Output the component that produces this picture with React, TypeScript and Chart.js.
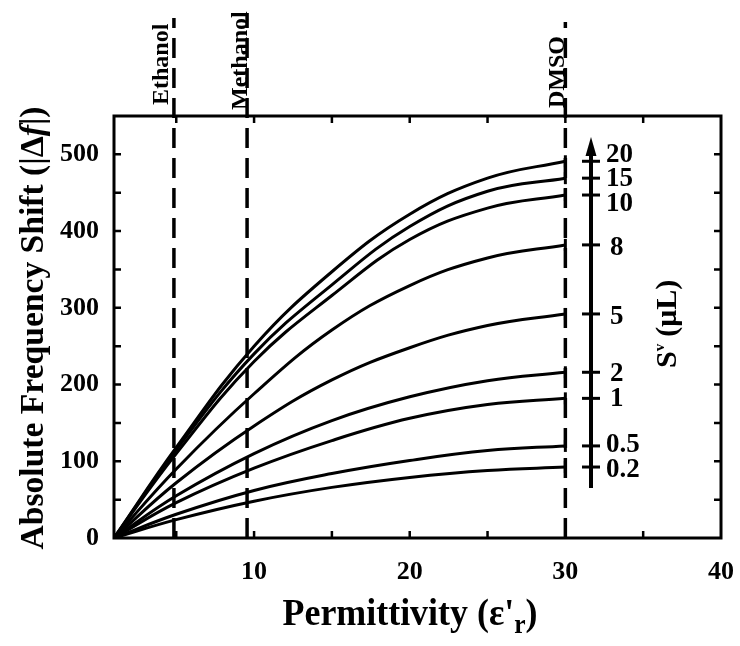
import React, { useEffect, useRef } from "react";
import { Chart, registerables } from "chart.js";

Chart.register(...registerables);

// ---- data ----
const permittivity = [1, 5, 10, 15, 20, 25, 30];
const sv20 = [0, 118, 250, 347, 422, 469, 491];
const sv15 = [0, 115, 240, 330, 406, 452, 469];
const sv10 = [0, 110, 230, 316, 389, 430, 447];
const sv8 = [0, 90, 188, 271, 329, 365, 382];
const sv5 = [0, 72, 146, 206, 248, 277, 292];
const sv2 = [0, 55, 110, 153, 184, 205, 216];
const sv1 = [0, 46, 91, 127, 156, 174, 182];
const sv05 = [0, 31, 62, 84, 101, 114, 120];
const sv02 = [0, 24, 48, 66, 79, 88, 92.5];
const seriesLabels = ["20", "15", "10", "8", "5", "2", "1", "0.5", "0.2"];
const seriesValues = [sv20, sv15, sv10, sv8, sv5, sv2, sv1, sv05, sv02];

const solventNames = ["Ethanol", "Methanol", "DMSO"];
const solventPermittivity = [4.85, 9.55, 30];

const xTickLabels = [10, 20, 30, 40];
const yTickLabels = [0, 100, 200, 300, 400, 500];
const xMinorTicks = [5, 10, 15, 20, 25, 30, 35];
const yMinorTicks = [50, 100, 150, 200, 250, 300, 350, 400, 450, 500];

const SERIF = '"Liberation Serif", "Times New Roman", serif';

type Seg = { t: string; font: string; dy?: number };

function drawSegs(ctx: CanvasRenderingContext2D, segs: Seg[], fitWidth?: number) {
  let total = 0;
  const widths = segs.map((s) => {
    ctx.font = s.font;
    const w = ctx.measureText(s.t).width;
    total += w;
    return w;
  });
  const k = fitWidth ? fitWidth / total : 1;
  ctx.save();
  ctx.scale(k, 1);
  let x = -total / 2;
  segs.forEach((s, i) => {
    ctx.font = s.font;
    ctx.fillText(s.t, x, s.dy || 0);
    x += widths[i];
  });
  ctx.restore();
}

const decorPlugin = {
  id: "decor",
  afterDraw(chart: any) {
    const { ctx, chartArea } = chart;
    const { left, right, top, bottom } = chartArea;
    const xs = chart.scales.x;
    const ys = chart.scales.y;
    ctx.save();
    ctx.strokeStyle = "#000";
    ctx.fillStyle = "#000";

    // frame
    ctx.lineWidth = 3;
    ctx.strokeRect(left, top, right - left, bottom - top);

    // inward ticks
    ctx.lineWidth = 2.5;
    ctx.beginPath();
    xMinorTicks.forEach((v) => {
      const px = xs.getPixelForValue(v);
      ctx.moveTo(px, bottom);
      ctx.lineTo(px, bottom - 7);
      ctx.moveTo(px, top);
      ctx.lineTo(px, top + 7);
    });
    yMinorTicks.forEach((v) => {
      const py = ys.getPixelForValue(v);
      ctx.moveTo(left, py);
      ctx.lineTo(left + 7, py);
      ctx.moveTo(right, py);
      ctx.lineTo(right - 7, py);
    });
    ctx.stroke();

    // dashed solvent lines
    const dashTops = [18, 13, 22];
    ctx.lineWidth = 3.5;
    ctx.setLineDash([20, 10]);
    solventPermittivity.forEach((v, i) => {
      const px = xs.getPixelForValue(v);
      ctx.beginPath();
      ctx.moveTo(px, bottom);
      ctx.lineTo(px, dashTops[i]);
      ctx.stroke();
    });
    ctx.setLineDash([]);

    // solvent labels
    const labelBase = [-6, 0, -1];
    const labelStart = [105, 110, 108];
    ctx.font = `bold 24px ${SERIF}`;
    ctx.textAlign = "left";
    ctx.textBaseline = "alphabetic";
    solventNames.forEach((name, i) => {
      const px = xs.getPixelForValue(solventPermittivity[i]) + labelBase[i];
      ctx.save();
      ctx.translate(px, labelStart[i]);
      ctx.rotate(-Math.PI / 2);
      ctx.fillText(name, 0, 0);
      ctx.restore();
    });

    // arrow scale for Sv
    const ax = 591;
    ctx.lineWidth = 4;
    ctx.beginPath();
    ctx.moveTo(ax, 488);
    ctx.lineTo(ax, 152);
    ctx.stroke();
    ctx.beginPath();
    ctx.moveTo(ax, 137);
    ctx.lineTo(ax - 5.5, 156);
    ctx.lineTo(ax + 5.5, 156);
    ctx.closePath();
    ctx.fill();

    const labelDy = [-7, 0, 8, 2, 2, 1, 0, -2, 2];
    ctx.lineWidth = 3;
    ctx.font = `bold 27px ${SERIF}`;
    ctx.textBaseline = "middle";
    seriesValues.forEach((vals, i) => {
      const py = ys.getPixelForValue(vals[vals.length - 1]);
      ctx.beginPath();
      ctx.moveTo(582, py);
      ctx.lineTo(600, py);
      ctx.stroke();
      const lab = seriesLabels[i];
      ctx.fillText(lab, 606 + (lab.length === 1 ? 4 : 0), py + labelDy[i] + 1);
    });

    // Sv (μL) label
    ctx.save();
    ctx.translate(676, 368);
    ctx.rotate(-Math.PI / 2);
    ctx.textBaseline = "alphabetic";
    ctx.textAlign = "left";
    ctx.font = `bold 30px ${SERIF}`;
    ctx.fillText("S", 0, 0);
    let w = ctx.measureText("S").width;
    ctx.font = `bold 15px ${SERIF}`;
    ctx.fillText("v", w, -12);
    w += ctx.measureText("v").width + 7;
    ctx.font = `bold 30px ${SERIF}`;
    ctx.fillText("(μL)", w, 0);
    ctx.restore();

    // Y axis title
    ctx.save();
    ctx.translate(43, 328);
    ctx.rotate(-Math.PI / 2);
    ctx.textAlign = "left";
    ctx.textBaseline = "alphabetic";
    drawSegs(
      ctx,
      [
        { t: "Absolute Frequency Shift (|Δ", font: `bold 34px ${SERIF}` },
        { t: "f", font: `italic bold 34px ${SERIF}` },
        { t: "|)", font: `bold 34px ${SERIF}` },
      ],
      443
    );
    ctx.restore();

    // X axis title
    ctx.save();
    ctx.translate(410, 625);
    ctx.textAlign = "left";
    ctx.textBaseline = "alphabetic";
    drawSegs(
      ctx,
      [
        { t: "Permittivity (ε'", font: `bold 38px ${SERIF}` },
        { t: "r", font: `bold 27px ${SERIF}`, dy: 8 },
        { t: ")", font: `bold 38px ${SERIF}` },
      ],
      255
    );
    ctx.restore();

    ctx.restore();
  },
};

export default function App() {
  const ref = useRef<HTMLCanvasElement | null>(null);
  useEffect(() => {
    if (!ref.current) return;
    const datasets = seriesValues.map((vals, i) => ({
      label: seriesLabels[i],
      data: vals.map((v, j) => ({ x: permittivity[j], y: v })),
      borderColor: "#000",
      backgroundColor: "#000",
      borderWidth: 3,
      tension: 0.4,
      pointStyle: "line" as const,
      rotation: 90,
      pointBorderWidth: 3,
      pointBorderColor: "#000",
      pointRadius: (c: any) => (c.dataIndex === permittivity.length - 1 ? 6 : 0),
      pointHoverRadius: 0,
    }));
    const tickFont = { family: SERIF, size: 26, weight: "bold" as const };
    const chart = new Chart(ref.current, {
      type: "line",
      data: { datasets },
      options: {
        animation: false,
        responsive: false,
        layout: { padding: { top: 116, right: 19, left: 0, bottom: 0 } },
        plugins: { legend: { display: false }, tooltip: { enabled: false } },
        scales: {
          x: {
            type: "linear",
            min: 1,
            max: 40,
            grid: { display: false, drawTicks: false },
            border: { display: false },
            afterBuildTicks: (s: any) => {
              s.ticks = xTickLabels.map((v) => ({ value: v }));
            },
            afterFit: (s: any) => {
              s.height = 108;
              s.paddingLeft = 0;
              s.paddingRight = 0;
            },
            ticks: { font: tickFont, color: "#000", padding: 19, maxRotation: 0 },
          },
          y: {
            type: "linear",
            min: 0,
            max: 550,
            grid: { display: false, drawTicks: false },
            border: { display: false },
            afterBuildTicks: (s: any) => {
              s.ticks = yTickLabels.map((v) => ({ value: v }));
            },
            afterFit: (s: any) => {
              s.width = 114;
              s.paddingTop = 0;
              s.paddingBottom = 0;
            },
            ticks: { font: tickFont, color: "#000", padding: 15 },
          },
        },
      },
      plugins: [decorPlugin],
    });
    return () => chart.destroy();
  }, []);
  return (
    <div style={{ position: "fixed", left: 0, top: 0, width: 740, height: 646, background: "#fff" }}>
      <canvas ref={ref} width={740} height={646} />
    </div>
  );
}
